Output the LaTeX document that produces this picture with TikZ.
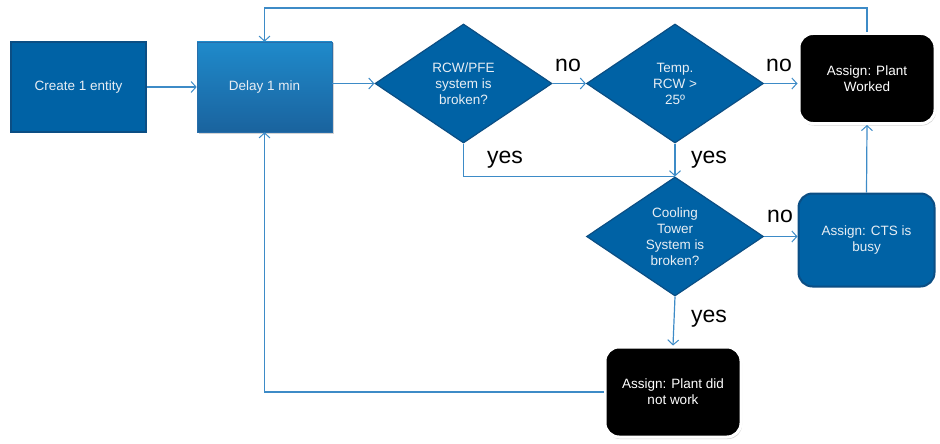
\documentclass[tikz,border=0pt]{standalone}
\usepackage{fontspec}
\setmainfont{Liberation Sans}
\usetikzlibrary{shapes.geometric,arrows.meta,shadows}
\definecolor{bfill}{HTML}{0062A5}
\definecolor{bdark}{HTML}{0B4E84}
\definecolor{lineblue}{HTML}{3D8BC7}
\definecolor{txt}{HTML}{E8EEF4}
\definecolor{dtop}{HTML}{1F8ACB}
\definecolor{dbot}{HTML}{1A639E}
\definecolor{dedge}{HTML}{286EAA}
\begin{document}
\begin{tikzpicture}[x=1pt,y=-1pt,
  boxtext/.style={text=txt,font=\fontsize{13.5}{16}\selectfont,align=center},
  createbox/.style={boxtext,draw=bdark,line width=2.5pt,fill=bfill,minimum width=135pt,minimum height=90pt,inner sep=0pt},
  delaybox/.style={boxtext,top color=dtop,bottom color=dbot,draw=dedge,line width=0.6pt,minimum width=135pt,minimum height=90pt,inner sep=0pt,drop shadow={shadow xshift=1.5pt,shadow yshift=-1.5pt,opacity=0.35}},
  decision/.style={boxtext,diamond,aspect=1.49,draw=bdark,line width=1.2pt,fill=bfill,minimum width=177pt,minimum height=119pt,inner sep=0pt},
  bluebox/.style={boxtext,rounded corners=14pt,draw=bdark,line width=2pt,fill=bfill,minimum width=136pt,minimum height=93pt,inner sep=0pt},
  blackbox/.style={text=white,font=\fontsize{13.5}{16}\selectfont,align=center,rounded corners=14pt,draw=white,line width=3pt,fill=black,minimum width=136pt,minimum height=90pt,inner sep=0pt,drop shadow={shadow xshift=1pt,shadow yshift=-2pt,opacity=0.35}},
  conn/.style={draw=lineblue,line width=1.2pt,-{Straight Barb[length=5pt,width=11pt,line width=1pt]}},
  plain/.style={draw=lineblue,line width=1.2pt},
  lbl/.style={font=\fontsize{23}{26}\selectfont,text=black,inner sep=0pt}
]
\useasboundingbox (0,0) rectangle (940,444);
\node[createbox] (create) at (78.5,87) {Create 1 entity};
\node[delaybox] (delay) at (264.5,87) {Delay 1 min};
\node[decision] (d1) at (463.5,83.5) {RCW/PFE\\system is\\broken?};
\node[decision] (d2) at (675,83.5) {Temp.\\RCW >\\25º};
\node[blackbox] (pw) at (867,78.5) {Assign: Plant\\Worked};
\node[decision] (d3) at (675,236.5) {Cooling\\Tower\\System is\\broken?};
\node[bluebox] (cts) at (866.5,240) {Assign: CTS is\\busy};
\node[blackbox] (pdnw) at (673,392) {Assign: Plant did\\not work};
\draw[conn] (create.east) -- (delay.west);
\draw[conn] (delay.east |- d1.west) -- (d1.west);
\draw[conn] (d1.east) -- (d2.west);
\draw[conn] (d2.east) -- (pw.west |- d2.east);
\draw[plain] (d1.south) |- (d3.north);
\draw[conn] (d2.south) -- (d3.north);
\draw[conn] (d3.east) -- (cts.west |- d3.east);
\draw[conn] (cts.north) -- (pw.south);
\draw[conn] (pw.north) -- (pw.north |- 0,8) -| (delay.north);
\draw[conn] (d3.south) -- (pdnw.north);
\draw[conn] (pdnw.west) -| (delay.south);
\node[lbl] (l1) at (568,65) {no};
\node[lbl] (l2) at (779,65) {no};
\node[lbl] (l3) at (505,160) {yes};
\node[lbl] (l4) at (709,160) {yes};
\node[lbl] (l5) at (780,216) {no};
\node[lbl] (l6) at (709,319) {yes};
\end{tikzpicture}
\end{document}
